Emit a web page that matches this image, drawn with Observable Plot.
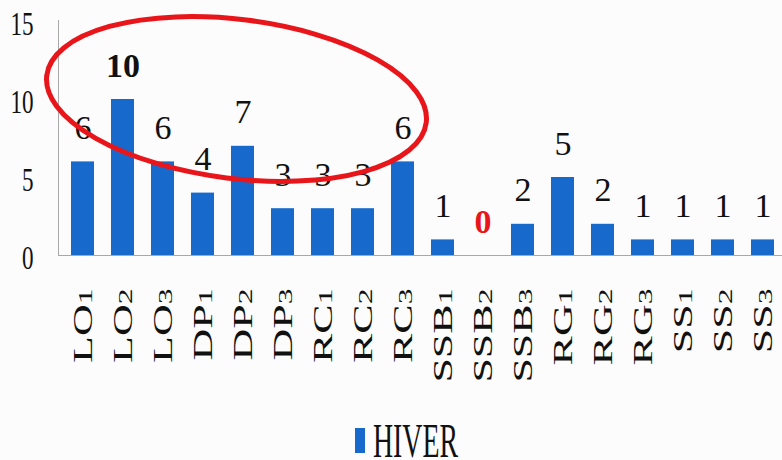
<!DOCTYPE html>
<html>
<head>
<meta charset="utf-8">
<script src="https://cdn.jsdelivr.net/npm/d3@7"></script>
<script src="https://cdn.jsdelivr.net/npm/@observablehq/plot@0.6"></script>
<style>
  html, body { margin: 0; padding: 0; background: #fcfcfc; }
  #chart { width: 782px; height: 460px; overflow: hidden; font-family: 'Liberation Serif', serif; }
  #chart svg { display: block; background: transparent; }
</style>
</head>
<body>
<div id="chart"></div>
<script>
// Sampling stations (winter campaign) and their counts
const stations = ["LO1", "LO2", "LO3", "DP1", "DP2", "DP3", "RC1", "RC2", "RC3",
                  "SSB1", "SSB2", "SSB3", "RG1", "RG2", "RG3", "SS1", "SS2", "SS3"];
const hiver = [6, 10, 6, 4, 7, 3, 3, 3, 6, 1, 0, 2, 5, 2, 1, 1, 1, 1];
const yTicks = [0, 5, 10, 15];
const seriesName = "HIVER";
// first and last station of the group ringed in red
const ringed = ["LO1", "RC3"];

const rows = stations.map((station, i) => ({station, value: hiver[i]}));
const maxValue = d3.max(hiver);

const serif = "'Liberation Serif', serif";
const blue = "#1769cc";
const red = "#e8161a";
const ink = "#111";
const svgNS = "http://www.w3.org/2000/svg";

// Red ellipse drawn round the LO / DP / RC stations
function ring(index, scales) {
  const x = scales.x, y = scales.y;
  const bw = typeof x.bandwidth === "function" ? x.bandwidth() : x.bandwidth;
  const step = x(stations[1]) - x(stations[0]);
  const x0 = x(ringed[0]);
  const x1 = x(ringed[1]) + bw;
  const cx = (x0 + x1) / 2 - 0.15 * step;
  const cy = y(10);
  const rx = 4.78 * step;
  const ry = y(0) - y(5.1);
  const e = document.createElementNS(svgNS, "ellipse");
  e.setAttribute("cx", cx);
  e.setAttribute("cy", cy);
  e.setAttribute("rx", rx);
  e.setAttribute("ry", ry);
  e.setAttribute("fill", "none");
  e.setAttribute("stroke", red);
  e.setAttribute("stroke-width", 5);
  e.setAttribute("transform", `rotate(7.1 ${cx} ${cy})`);
  return e;
}

// Value labels: regular, the maximum in bold, the empty station in bold red
const labelOptions = {x: "station", y: "value", text: d => String(d.value), dy: -23, lineAnchor: "bottom", fontSize: 34, ariaLabel: "bar value"};
const regularRows = rows.filter(d => d.value !== maxValue && d.value !== 0);
const maxRows = rows.filter(d => d.value === maxValue);
const zeroRows = rows.filter(d => d.value === 0);

const chart = Plot.plot({
  width: 782,
  height: 400,
  marginTop: 20,
  marginLeft: 58,
  marginRight: 0,
  marginBottom: 145,
  style: {fontFamily: serif, background: "transparent", overflow: "visible"},
  x: {domain: stations, range: [57.2, 788], paddingInner: 0.43, paddingOuter: 0.215, label: null},
  y: {domain: [0, 15], range: [255, 21], label: null},
  marks: [
    Plot.barY(rows, {x: "station", y: "value", fill: blue}),
    Plot.frame({anchor: "left", stroke: "#a8a8a8", strokeWidth: 1}),
    Plot.ruleY([0], {stroke: "#a8a8a8", strokeWidth: 1}),
    Plot.axisY({ticks: yTicks, tickSize: 0, tickPadding: 25, fontSize: 34, dy: 3, fill: ink, fontFamily: serif, label: null}),
    Plot.axisX({tickRotate: -90, tickSize: 0, tickPadding: 33, fontSize: 44, fill: ink, fontFamily: serif, label: null}),
    Plot.text(regularRows, {...labelOptions, fill: ink, fontFamily: serif}),
    Plot.text(maxRows, {...labelOptions, fill: ink, fontWeight: "bold", fontFamily: serif}),
    Plot.text(zeroRows, {...labelOptions, fill: red, fontWeight: "bold", fontFamily: serif}),
    ring
  ]
});

// Narrow the lettering horizontally about each label's anchor point
function squeeze(t, k) {
  const tr = t.getAttribute("transform") || "";
  const m = /translate\(\s*([-\d.e]+)[\s,]+([-\d.e]+)\s*\)/.exec(tr);
  let ax = m ? +m[1] : 0, ay = m ? +m[2] : 0;
  const xa = t.getAttribute("x");
  if (xa && !isNaN(+xa)) ax += +xa;
  t.setAttribute("transform", `translate(${ax},${ay}) scale(${k},1) translate(${-ax},${-ay}) ${tr}`.trim());
}

// Station labels: the trailing index digit is set smaller
chart.querySelectorAll('g[aria-label="x-axis tick label"] text').forEach(t => {
  const s = t.textContent;
  const m = /^(.*?)(\d+)$/.exec(s);
  if (m) {
    t.textContent = m[1];
    const sub = document.createElementNS(svgNS, "tspan");
    sub.setAttribute("font-size", "0.72em");
    sub.textContent = m[2];
    t.appendChild(sub);
  }
  squeeze(t, 0.62);
});
chart.querySelectorAll('g[aria-label="y-axis tick label"] text').forEach(t => squeeze(t, 0.68));
chart.querySelectorAll('g[aria-label="bar value"] text').forEach(t => squeeze(t, 0.8));

document.getElementById("chart").appendChild(chart);

// Legend below the chart
const legend = d3.create("svg")
  .attr("width", 782)
  .attr("height", 60)
  .style("display", "block")
  .style("overflow", "visible")
  .style("font-family", serif);
legend.append("rect")
  .attr("x", 355).attr("y", 28)
  .attr("width", 10).attr("height", 25)
  .attr("fill", blue);
legend.append("text")
  .attr("x", 373).attr("y", 57)
  .attr("font-size", 48)
  .attr("fill", ink)
  .attr("transform", "translate(373,0) scale(0.58,1) translate(-373,0)")
  .text(seriesName);
document.getElementById("chart").appendChild(legend.node());
</script>
</body>
</html>
